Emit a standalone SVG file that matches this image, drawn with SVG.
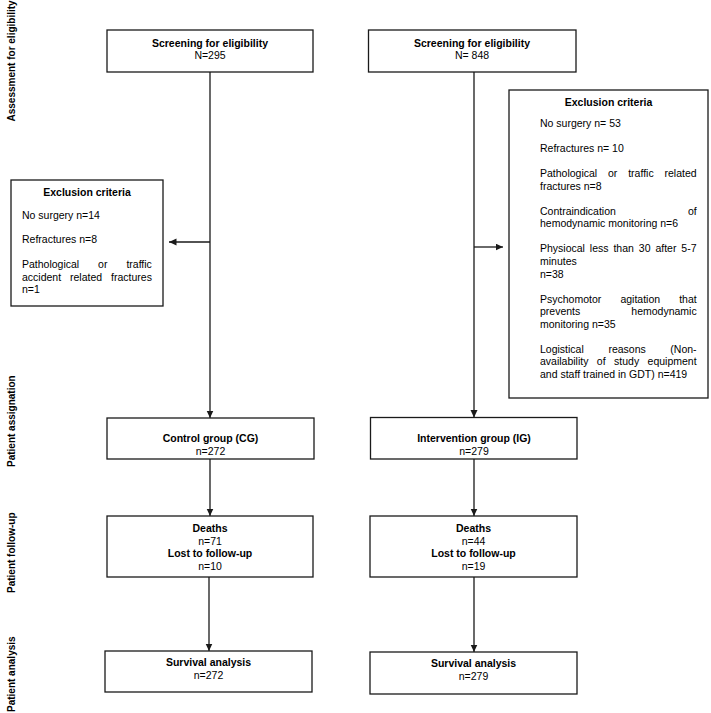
<svg xmlns="http://www.w3.org/2000/svg" width="711" height="713" viewBox="0 0 711 713">
<style>
.box{fill:#fff;stroke:#1a1a1a;stroke-width:1.3}
text{font-family:"Liberation Sans",Arial,Helvetica,sans-serif;font-size:10.5px;fill:#000}
.b{font-weight:bold}
.c{text-anchor:middle}
.e{text-anchor:end}
.lab{font-size:10px;font-weight:bold}
#connectors line{stroke:#1a1a1a;stroke-width:1.3;fill:none}
</style>
<defs>
<marker id="arr" markerUnits="userSpaceOnUse" markerWidth="8" markerHeight="8" refX="7.5" refY="3.5" orient="auto">
<path d="M0,0 L7.5,3.5 L0,7 z" fill="#1a1a1a"/>
</marker>
</defs>
<rect width="711" height="713" fill="#fff"/>

<g id="stage-labels">
<text class="lab" transform="translate(14.5,121.5) rotate(-90)">Assessment for eligibility</text>
<text class="lab" transform="translate(14.5,467) rotate(-90)">Patient assignation</text>
<text class="lab" transform="translate(14.5,593) rotate(-90)">Patient follow-up</text>
<text class="lab" transform="translate(14.5,712) rotate(-90)">Patient analysis</text>
</g>

<g id="connectors">
<line x1="210" y1="72" x2="210" y2="418" marker-end="url(#arr)"/>
<line x1="210" y1="242" x2="169" y2="242" marker-end="url(#arr)"/>
<line x1="474" y1="72" x2="474" y2="417.5" marker-end="url(#arr)"/>
<line x1="474" y1="247" x2="503" y2="247" marker-end="url(#arr)"/>
<line x1="210" y1="459" x2="210" y2="516" marker-end="url(#arr)"/>
<line x1="474" y1="459" x2="474" y2="516" marker-end="url(#arr)"/>
<line x1="209" y1="577" x2="209" y2="651" marker-end="url(#arr)"/>
<line x1="474" y1="577" x2="474" y2="652" marker-end="url(#arr)"/>
</g>

<g id="screen-cg">
<rect class="box" x="107" y="30" width="206" height="42"/>
<text class="b c" x="210" y="46.5">Screening for eligibility</text>
<text class="c" x="210" y="59">N=295</text>
</g>

<g id="screen-ig">
<rect class="box" x="368.5" y="30" width="207.5" height="42"/>
<text class="b c" x="472" y="46.5">Screening for eligibility</text>
<text class="c" x="472" y="59">N= 848</text>
</g>

<g id="excl-cg">
<rect class="box" x="11" y="180" width="152" height="126"/>
<text class="b c" x="87" y="196">Exclusion criteria</text>
<text x="22" y="218.8">No surgery n=14</text>
<text x="22" y="242.8">Refractures n=8</text>
<text x="22" y="268.1" word-spacing="16">Pathological or traffic</text>
<text x="22" y="280.5" word-spacing="6">accident related fractures</text>
<text x="22" y="292.8">n=1</text>
</g>

<g id="excl-ig">
<rect class="box" x="509" y="90" width="199" height="308"/>
<text class="b c" x="608.5" y="106">Exclusion criteria</text>
<text x="540" y="127.1">No surgery n= 53</text>
<text x="540" y="152.1">Refractures n= 10</text>
<text x="540" y="177.1" word-spacing="7.9">Pathological or traffic related</text>
<text x="540" y="189.7">fractures n=8</text>
<text x="540" y="214.7">Contraindication</text>
<text class="e" x="696.7" y="214.7">of</text>
<text x="540" y="227.3">hemodynamic monitoring n=6</text>
<text x="540" y="252.3" word-spacing="2">Physiocal less than 30 after 5-7</text>
<text x="540" y="264.9">minutes</text>
<text x="540" y="277.5">n=38</text>
<text x="540" y="302.5" word-spacing="16.2">Psychomotor agitation that</text>
<text x="540" y="315.1">prevents</text>
<text class="e" x="696.7" y="315.1">hemodynamic</text>
<text x="540" y="327.7">monitoring n=35</text>
<text x="540" y="352.7" word-spacing="21.7">Logistical reasons (Non-</text>
<text x="540" y="365.3" word-spacing="5.5">availability of study equipment</text>
<text x="540" y="377.9">and staff trained in GDT) n=419</text>
</g>

<g id="cg">
<rect class="box" x="107" y="418" width="207" height="41"/>
<text class="b c" x="210.5" y="442">Control group (CG)</text>
<text class="c" x="210.5" y="454.5">n=272</text>
</g>

<g id="ig">
<rect class="box" x="370.5" y="417.5" width="206.5" height="41.5"/>
<text class="b c" x="474" y="442">Intervention group (IG)</text>
<text class="c" x="474" y="454.5">n=279</text>
</g>

<g id="fu-cg">
<rect class="box" x="107" y="516" width="206" height="61"/>
<text class="b c" x="210" y="532">Deaths</text>
<text class="c" x="210" y="544.5">n=71</text>
<text class="b c" x="210" y="557">Lost to follow-up</text>
<text class="c" x="210" y="569.5">n=10</text>
</g>

<g id="fu-ig">
<rect class="box" x="370" y="516" width="207" height="61"/>
<text class="b c" x="473.5" y="532">Deaths</text>
<text class="c" x="473.5" y="544.5">n=44</text>
<text class="b c" x="473.5" y="557">Lost to follow-up</text>
<text class="c" x="473.5" y="569.5">n=19</text>
</g>

<g id="an-cg">
<rect class="box" x="105" y="651" width="207" height="41"/>
<text class="b c" x="208.5" y="666">Survival analysis</text>
<text class="c" x="208.5" y="678.5">n=272</text>
</g>

<g id="an-ig">
<rect class="box" x="370" y="652" width="207" height="42"/>
<text class="b c" x="473.5" y="667">Survival analysis</text>
<text class="c" x="473.5" y="679.5">n=279</text>
</g>
</svg>
